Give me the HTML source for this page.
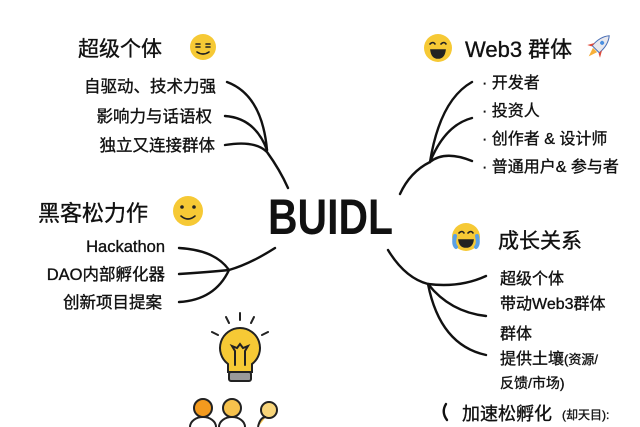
<!DOCTYPE html>
<html><head><meta charset="utf-8"><style>
html,body{margin:0;padding:0;background:#fff;}
svg{display:block;font-family:"Liberation Sans","Noto Sans CJK SC",sans-serif;}
</style></head><body>
<svg width="640" height="427" viewBox="0 0 640 427" xmlns="http://www.w3.org/2000/svg">
<rect width="640" height="427" fill="#fff"/>
<g fill="none" stroke="#111" stroke-width="2.4" stroke-linecap="round">
<path d="M227,82 Q262,95 267,150"/>
<path d="M225,116 Q255,118 267,150"/>
<path d="M225,145 Q255,140 267,152 Q280,170 288,188"/>
<path d="M179,248 Q215,250 229,270"/>
<path d="M179,274 Q210,272 229,270"/>
<path d="M179,302 Q215,300 229,270 Q250,264 275,248"/>
<path d="M472,82 Q440,100 430,162"/>
<path d="M472,118 Q445,125 430,162"/>
<path d="M472,161 Q445,150 430,162 Q410,172 400,194"/>
<path d="M388,250 Q405,278 428,284 Q460,288 486,276"/>
<path d="M428,284 Q450,312 486,316"/>
<path d="M428,284 Q440,345 486,355"/>
<path d="M446,404 Q441,412 447,420"/>
</g>
<g fill="#111" stroke="#111" stroke-width="0.35">
<text x="78" y="56" font-size="21">超级个体</text>
<text x="216" y="92" font-size="16.5" text-anchor="end">自驱动、技术力强</text>
<text x="212" y="122" font-size="16.5" text-anchor="end">影响力与话语权</text>
<text x="215" y="151" font-size="16.5" text-anchor="end">独立又连接群体</text>
<text x="38" y="221" font-size="22">黑客松力作</text>
<text x="165" y="252" font-size="16.5" text-anchor="end">Hackathon</text>
<text x="165" y="280" font-size="16.5" text-anchor="end">DAO内部孵化器</text>
<text x="162" y="308" font-size="16.5" text-anchor="end">创新项目提案</text>
<text x="268" y="234" font-size="50" font-weight="bold" stroke="none" textLength="125" lengthAdjust="spacingAndGlyphs">BUIDL</text>
<text x="465" y="57" font-size="22">Web3 群体</text>
<text x="482" y="88" font-size="16">· 开发者</text>
<text x="482" y="116" font-size="16">· 投资人</text>
<text x="482" y="144" font-size="16">· 创作者 &amp; 设计师</text>
<text x="482" y="172" font-size="16">· 普通用户&amp; 参与者</text>
<text x="498" y="248" font-size="21">成长关系</text>
<text x="500" y="284" font-size="16">超级个体</text>
<text x="500" y="309" font-size="16">带动Web3群体</text>
<text x="500" y="339" font-size="16">群体</text>
<text x="500" y="364" font-size="16">提供土壤<tspan font-size="13">(资源/</tspan></text>
<text x="500" y="388" font-size="14">反馈/市场)</text>
<text x="462" y="420" font-size="18">加速松孵化</text>
<text x="562" y="419" font-size="12">(却天目):</text>
</g>
<g stroke="#222" stroke-width="1.6" fill="none" stroke-linecap="round">
<circle cx="203" cy="47" r="13" fill="#f6c935" stroke="none"/>
<path d="M196,44h4M206,44h4M196,47h4M206,47h4M197,52q6,4 12,0"/>
<circle cx="188" cy="211" r="15" fill="#f6c935" stroke="none"/>
<circle cx="182" cy="207" r="1.8" fill="#222" stroke="none"/><circle cx="194" cy="207" r="1.8" fill="#222" stroke="none"/>
<path d="M181,216q7,6 14,0"/>
<circle cx="438" cy="48" r="14" fill="#f6c935" stroke="none"/>
<path d="M430,44q3,-3 5,0M441,44q3,-3 5,0"/>
<path d="M431,50h14q-1,8 -7,8q-6,0 -7,-8z" fill="#222"/>
<circle cx="466" cy="237" r="14" fill="#f6c935" stroke="none"/>
<path d="M459,233q3,-3 5,0M468,233q3,-3 5,0"/>
<path d="M459,240h14q-1,7 -7,7q-6,0 -7,-7z" fill="#222"/>
<path d="M455,236q-2,8 1,11M477,236q2,8 -1,11" stroke="#5aa0e6" stroke-width="4"/>
</g>
<g transform="translate(600,45) rotate(45)">
<path d="M0,-13 Q6,-6 5,6 L-5,6 Q-6,-6 0,-13z" fill="#e8e8ee" stroke="#4a6fb5" stroke-width="1"/>
<circle cx="0" cy="-3" r="2" fill="#4a90e2"/>
<path d="M-5,2 L-9,9 L-5,7z M5,2 L9,9 L5,7z" fill="#e04a3a"/>
<path d="M-3,7 L0,16 L3,7z" fill="#f6b03a"/>
</g>
<g stroke="#222" stroke-width="2" stroke-linecap="round">
<path d="M240,313v7M226,317l3,6M254,317l-3,6M212,332l6,3M268,332l-6,3"/>
<path d="M240,328a20,20 0 0 1 12,36v8h-24v-8a20,20 0 0 1 12,-36z" fill="#f6c935"/>
<path d="M235,365v-14l-3,-5l5,2l3,-4l3,4l5,-2l-3,5v14" fill="none"/>
<rect x="229" y="372" width="22" height="9" rx="2" fill="#999"/>
</g>
<g stroke="#222" stroke-width="2">
<circle cx="203" cy="408" r="9" fill="#f39a1e"/>
<path d="M190,427a13,10 0 0 1 26,0" fill="#fff"/>
<circle cx="232" cy="408" r="9" fill="#f6c24d"/>
<path d="M219,427a13,10 0 0 1 26,0" fill="#fff"/>
<circle cx="269" cy="410" r="8" fill="#f8d57a"/>
<path d="M258,427q2,-10 8,-10" fill="#f6c24d"/>
</g>
</svg>
</body></html>
